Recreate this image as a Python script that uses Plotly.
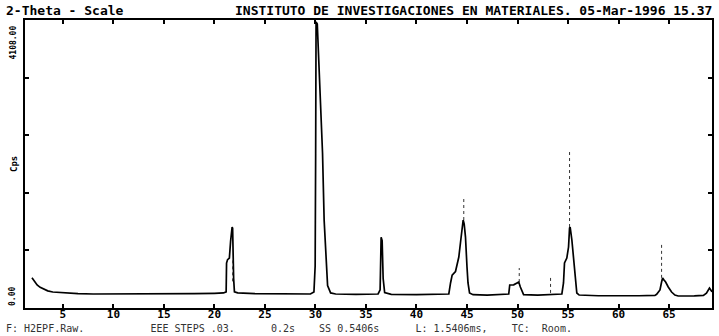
import plotly.graph_objects as go

# ---- data ----
two_theta = [1.94, 2.2, 2.45, 2.75, 3.05, 3.5, 4.0, 5.0, 6.5, 8.0, 10.0, 12.0, 15.0, 18.0, 20.0,
             20.9, 21.16, 21.2, 21.3, 21.48, 21.6, 21.68, 21.75, 21.8, 21.85, 21.9, 21.98, 22.3,
             24.0, 26.0, 28.0, 29.5, 29.85, 29.97, 30.02, 30.06, 30.18, 30.35, 30.54, 30.7,
             30.86, 31.05, 31.2, 31.5, 32.0, 34.0, 36.2, 36.4, 36.5, 36.6, 36.7, 36.85, 37.5,
             40.0, 42.5, 43.2, 43.37, 43.53, 43.86, 44.19, 44.35, 44.52, 44.62, 44.72, 44.85,
             45.0, 45.1, 45.25, 45.6, 47.0, 49.0, 49.13, 49.23, 49.62, 49.95, 50.12, 50.28,
             50.44, 50.6, 52.0, 54.2, 54.39, 54.55, 54.65, 54.88, 55.05, 55.15, 55.21, 55.38,
             55.55, 55.71, 55.87, 56.1, 58.0, 62.0, 63.6, 63.77, 64.1, 64.26, 64.36, 64.5,
             64.66, 64.92, 65.25, 65.58, 65.9, 67.5, 68.4, 68.7, 69.0, 69.25]
cps = [430, 370, 328, 295, 270, 245, 228, 215, 205, 200, 200, 198, 200, 205, 210,
       215, 230, 640, 690, 713, 950, 1100, 1155, 1140, 700, 420, 230, 215,
       205, 200, 195, 200, 230, 600, 2200, 4080, 4050, 3500, 2920, 2210,
       1250, 700, 320, 215, 200, 195, 200, 260, 1010, 960, 420, 220, 195,
       190, 190, 200, 357, 470, 520, 727, 927, 1155, 1255, 1200, 1012,
       585, 357, 214, 190, 185, 190, 200, 328, 330, 357, 370, 300,
       228, 190, 185, 190, 200, 357, 642, 713, 870, 1141, 1155, 970,
       684, 357, 214, 185, 175, 175, 180, 195, 257, 370, 428, 400,
       370, 300, 228, 185, 171, 172, 180, 210, 285, 230]

# faint (dotted) peak tips of the pen trace
tip_theta = [21.8, 44.68, 50.17, 53.27, 55.15, 64.26]
tip_low = [380, 1255, 370, 215, 1155, 430]
tip_high = [680, 1583, 570, 440, 2253, 900]

y_max = 4108.00
x_ticks = [5, 10, 15, 20, 25, 30, 35, 40, 45, 50, 55, 60, 65]

header_left = "2-Theta - Scale"
header_right = "INSTITUTO DE INVESTIGACIONES EN MATERIALES. 05-Mar-1996 15.37"
footer = "F: H2EPF.Raw.           EEE STEPS .03.      0.2s    SS 0.5406s      L: 1.5406ms,    TC:  Room."

MONO = "DejaVu Sans Mono"

fig = go.Figure()
fig.add_trace(go.Scatter(x=two_theta, y=cps, mode="lines",
                         line=dict(color="black", width=1.7), hoverinfo="skip"))

tx, ty = [], []
for t, lo, hi in zip(tip_theta, tip_low, tip_high):
    tx += [t, t, None]
    ty += [lo, hi, None]
fig.add_trace(go.Scatter(x=tx, y=ty, mode="lines",
                         line=dict(color="#333", width=1, dash="dot"), hoverinfo="skip"))

fig.update_layout(
    width=719, height=336,
    margin=dict(l=25, r=5, t=20, b=28),
    paper_bgcolor="white", plot_bgcolor="white",
    showlegend=False,
    font=dict(family=MONO, color="black"),
)
fig.update_xaxes(range=[1.25, 69.25], showgrid=False, zeroline=False,
                 showline=True, linecolor="black", linewidth=2, mirror="ticks",
                 ticks="inside", ticklen=4, tickwidth=1.5, tickcolor="black",
                 tickvals=x_ticks, ticktext=[str(v) for v in x_ticks],
                 tickfont=dict(family=MONO, size=11, weight="bold"),
                 ticklabelstandoff=-5)
fig.update_yaxes(range=[0, y_max], showgrid=False, zeroline=False,
                 showline=True, linecolor="black", linewidth=2, mirror="ticks",
                 ticks="inside", ticklen=4, tickwidth=1.5, tickcolor="black",
                 tickvals=[y_max * k / 5 for k in range(1, 5)],
                 showticklabels=False)

anns = [
    dict(text=header_left, x=0, y=1, xref="paper", yref="paper", xanchor="left", yanchor="bottom",
         xshift=-21, yshift=0, showarrow=False, font=dict(family=MONO, size=13, weight="bold")),
    dict(text=header_right, x=1, y=1, xref="paper", yref="paper", xanchor="right", yanchor="bottom",
         xshift=2, yshift=0, showarrow=False, font=dict(family=MONO, size=13, weight="bold")),
    dict(text=f"{y_max:.2f}", x=0, y=1, xref="paper", yref="paper", xanchor="right", yanchor="top",
         xshift=-6, yshift=-4, textangle=-90, showarrow=False, font=dict(family=MONO, size=8, weight="bold")),
    dict(text=f"{0:.2f}", x=0, y=0, xref="paper", yref="paper", xanchor="right", yanchor="bottom",
         xshift=-6, yshift=0, textangle=-90, showarrow=False, font=dict(family=MONO, size=8, weight="bold")),
    dict(text="Cps", x=0, y=0.5, xref="paper", yref="paper", xanchor="right", yanchor="middle",
         xshift=-4, textangle=-90, showarrow=False, font=dict(family=MONO, size=9, weight="bold")),
    dict(text=footer, x=0, y=0, xref="paper", yref="paper", xanchor="left", yanchor="top",
         xshift=-21, yshift=-13, showarrow=False, font=dict(family=MONO, size=10, color="#333")),
]
fig.update_layout(annotations=anns)

fig.write_html("out.html", post_script="document.body.style.margin='0';",
               config={"displayModeBar": False})
